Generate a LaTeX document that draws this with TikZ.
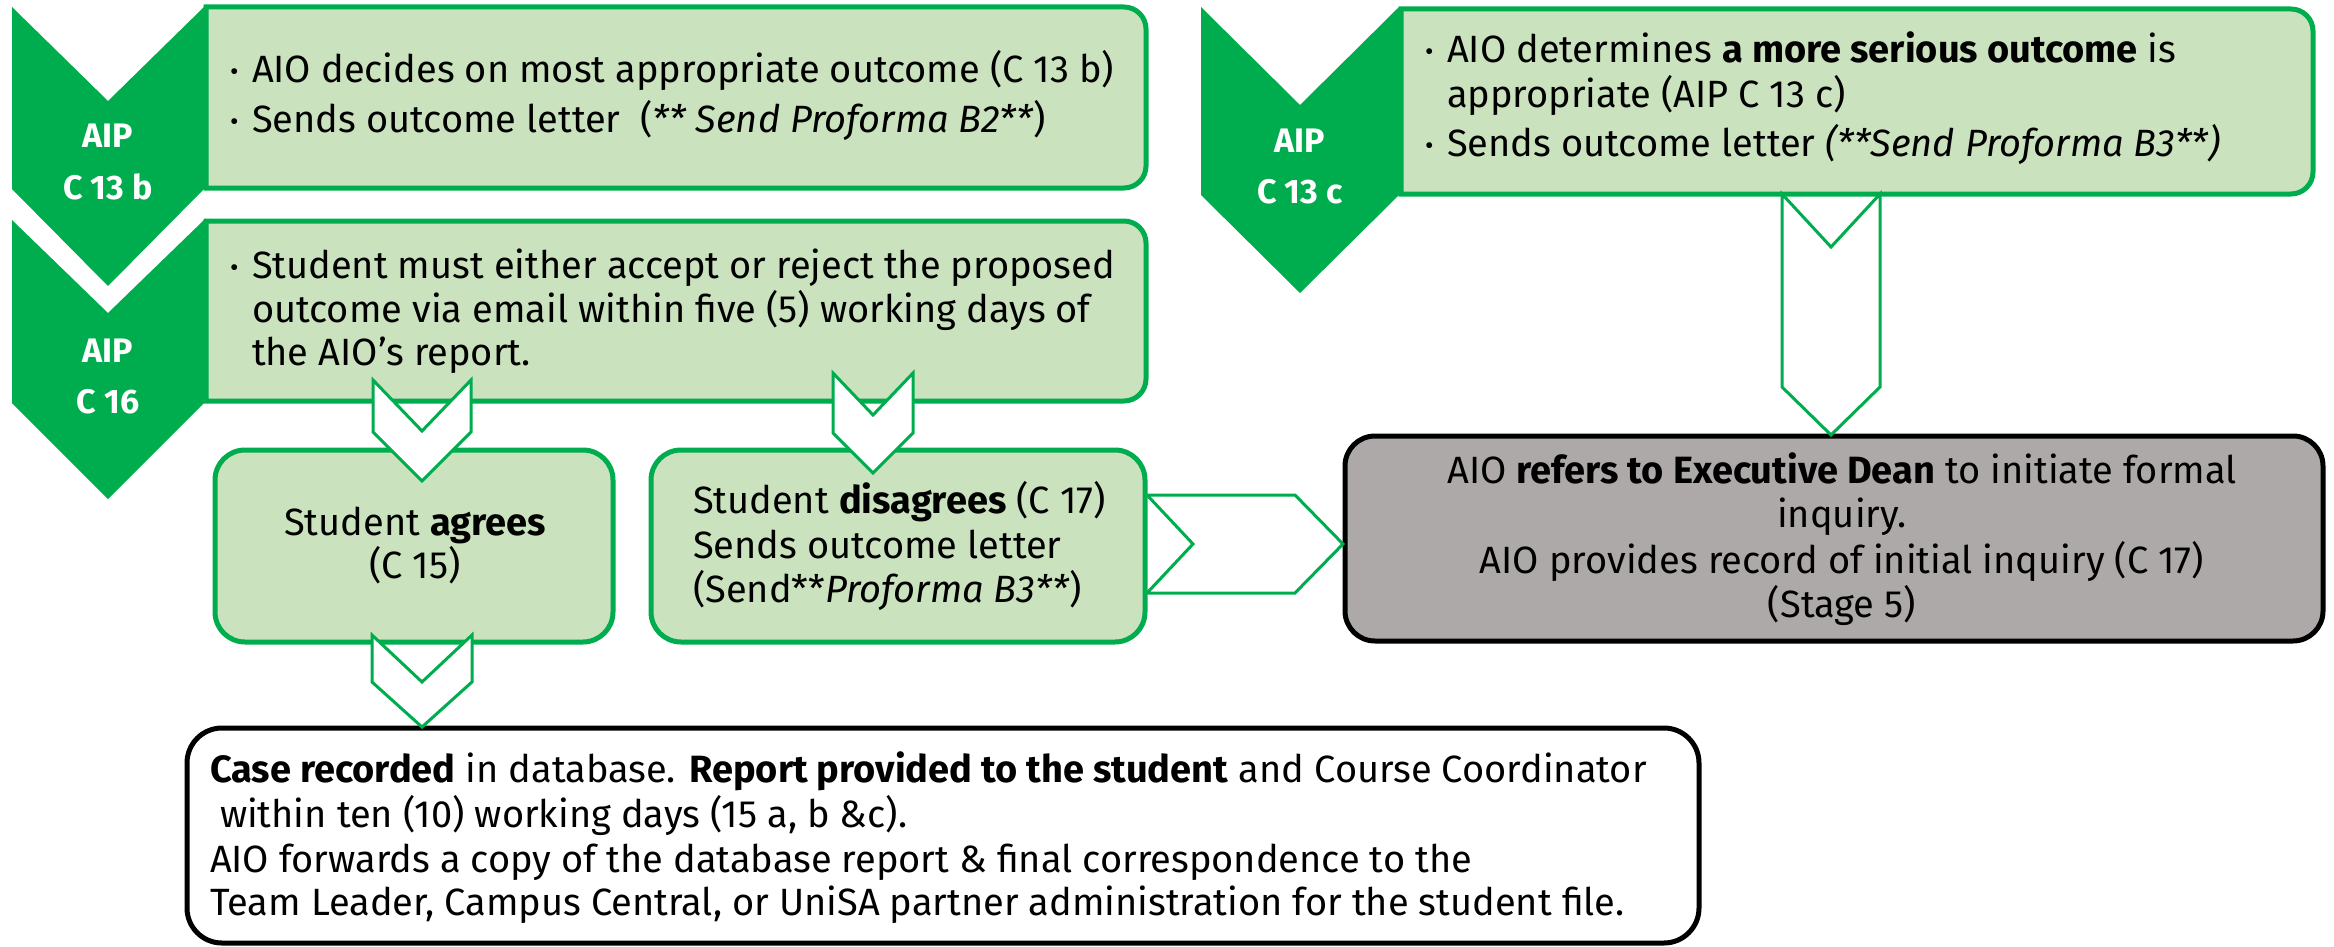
\documentclass[tikz,border=0pt]{standalone}
\usepackage{fontspec}
\setmainfont{Fira Sans}
\usetikzlibrary{calc}
\definecolor{ugreen}{RGB}{0,173,78}
\definecolor{lgreen}{RGB}{202,226,189}
\definecolor{ggray}{RGB}{173,169,168}
\newcommand\bul{\makebox[22pt][l]{\raisebox{2pt}{\fontsize{26}{26}\selectfont •}}}
\tikzset{
  chev/.style={fill=ugreen, draw=none},
  frame/.style={inner sep=0pt, outer sep=0pt, anchor=north west},
  gbox/.style={fill=lgreen, draw=ugreen, line width=5pt},
  kbox/.style={draw=black, line width=5pt},
  barrow/.style={fill=white, draw=ugreen, line width=3pt, line join=miter},
  lbl/.style={text=white, font=\bfseries\fontsize{34}{34}\selectfont, inner sep=0pt, anchor=base},
  tx/.style={font=\fontsize{38}{44}\selectfont, inner sep=0pt, outer sep=0pt, anchor=base west},
  tc/.style={font=\fontsize{38}{44}\selectfont, inner sep=0pt, outer sep=0pt, anchor=base}
}
\begin{document}
\begin{tikzpicture}[x=1pt,y=1pt]
\useasboundingbox (0,0) rectangle (2334,-947);

% chevrons
\fill[chev] (12,-7) -- (108,-101) -- (204,-7) -- (204,-189) -- (108,-286) -- (12,-189) -- cycle;
\fill[chev] (12,-220) -- (108,-313) -- (204,-220) -- (204,-403) -- (108,-499) -- (12,-403) -- cycle;
\fill[chev] (1201,-7) -- (1300,-105) -- (1399,-7) -- (1399,-195) -- (1300,-293) -- (1201,-195) -- cycle;
\node[lbl] (c1a) at (108,-148) {AIP};
\node[lbl] (c1b) at (108,-199) {C 13 b};
\node[lbl] (c2a) at (108,-362) {AIP};
\node[lbl] (c2b) at (108,-413) {C 16};
\node[lbl] (c3a) at (1300,-153) {AIP};
\node[lbl] (c3b) at (1300,-203) {C 13 c};

% half-rounded boxes
\node[frame, minimum width=940pt, minimum height=181pt] (b1) at (206,-7) {};
\draw[gbox] (b1.north west) -- ([xshift=-22pt]b1.north east) arc[start angle=90,end angle=0,radius=22pt]
  -- ([yshift=22pt]b1.south east) arc[start angle=0,end angle=-90,radius=22pt] -- (b1.south west) -- cycle;
\node[frame, minimum width=940pt, minimum height=180pt] (b2) at (206,-221) {};
\draw[gbox] (b2.north west) -- ([xshift=-22pt]b2.north east) arc[start angle=90,end angle=0,radius=22pt]
  -- ([yshift=22pt]b2.south east) arc[start angle=0,end angle=-90,radius=22pt] -- (b2.south west) -- cycle;
\node[frame, minimum width=912pt, minimum height=185pt] (b3) at (1401,-9) {};
\draw[gbox] (b3.north west) -- ([xshift=-22pt]b3.north east) arc[start angle=90,end angle=0,radius=22pt]
  -- ([yshift=22pt]b3.south east) arc[start angle=0,end angle=-90,radius=22pt] -- (b3.south west) -- cycle;

% rounded boxes
\node[frame, gbox, rounded corners=30pt, minimum width=398pt, minimum height=192pt] (agree) at (215,-450) {};
\node[frame, gbox, rounded corners=30pt, minimum width=494pt, minimum height=192pt] (dis) at (651,-450) {};
\node[frame, kbox, fill=ggray, rounded corners=30pt, minimum width=978pt, minimum height=205pt] (dean) at (1345,-436) {};
\node[frame, kbox, fill=white, rounded corners=35pt, minimum width=1512pt, minimum height=215pt] (rec) at (187,-728) {};

% texts box 1
\node[tx] (t11) at (230,-83) {\bul AIO decides on most appropriate outcome (C 13 b)};
\node[tx] (t12) at (230,-133) {\bul Sends outcome letter\ \ (\textit{** Send Proforma B2**})};
% box 2
\node[tx] (t21) at (230,-278) {\bul Student must either accept or reject the proposed};
\node[tx] (t22) at (252,-322) {outcome via email within five (5) working days of};
\node[tx] (t23) at (252,-365) {the AIO’s report.};
% box 3
\node[tx] (t31) at (1425,-63) {\bul AIO determines \textbf{a more serious outcome} is};
\node[tx] (t32) at (1447,-108) {appropriate (AIP C 13 c)};
\node[tx] (t33) at (1425,-157) {\bul Sends outcome letter \textit{(**Send Proforma B3**)}};
% agree
\node[tc] (ta1) at (415,-535) {Student \textbf{agrees}};
\node[tc] (ta2) at (415,-578) {(C 15)};
% disagree
\node[tx] (td1) at (693,-513) {Student \textbf{disagrees} (C 17)};
\node[tx] (td2) at (693,-558) {Sends outcome letter};
\node[tx] (td3) at (693,-602) {(Send**\textit{Proforma B3**})};
% dean
\node[tc] (te1) at (1842,-483) {AIO \textbf{refers to Executive Dean} to initiate formal};
\node[tc] (te2) at (1842,-527) {inquiry.};
\node[tc] (te3) at (1842,-573) {AIO provides record of initial inquiry (C 17)};
\node[tc] (te4) at (1842,-617) {(Stage 5)};
% record
\node[tx] (tr1) at (210,-782) {\textbf{Case recorded} in database. \textbf{Report provided to the student} and Course Coordinator};
\node[tx] (tr2) at (220,-827) {within ten (10) working days (15 a, b \&c).};
\node[tx] (tr3) at (210,-872) {AIO forwards a copy of the database report \& final correspondence to the};
\node[tx] (tr4) at (210,-915) {Team Leader, Campus Central, or UniSA partner administration for the student file.};

% block arrows
\draw[barrow] (373,-380) -- (422,-431) -- (471,-380) -- (471,-432) -- (422,-481) -- (373,-432) -- cycle;
\draw[barrow] (833,-373) -- (873,-415) -- (913,-373) -- (913,-433) -- (873,-473) -- (833,-433) -- cycle;
\draw[barrow] (372,-635) -- (422,-682) -- (472,-635) -- (472,-682) -- (422,-727) -- (372,-682) -- cycle;
\draw[barrow] (1782,-194) -- (1831,-247) -- (1880,-194) -- (1880,-387) -- (1831,-435) -- (1782,-387) -- cycle;
\draw[barrow] (1147,-495) -- (1295,-495) -- (1343,-544) -- (1295,-593) -- (1147,-593) -- (1193,-544) -- cycle;
\end{tikzpicture}
\end{document}
